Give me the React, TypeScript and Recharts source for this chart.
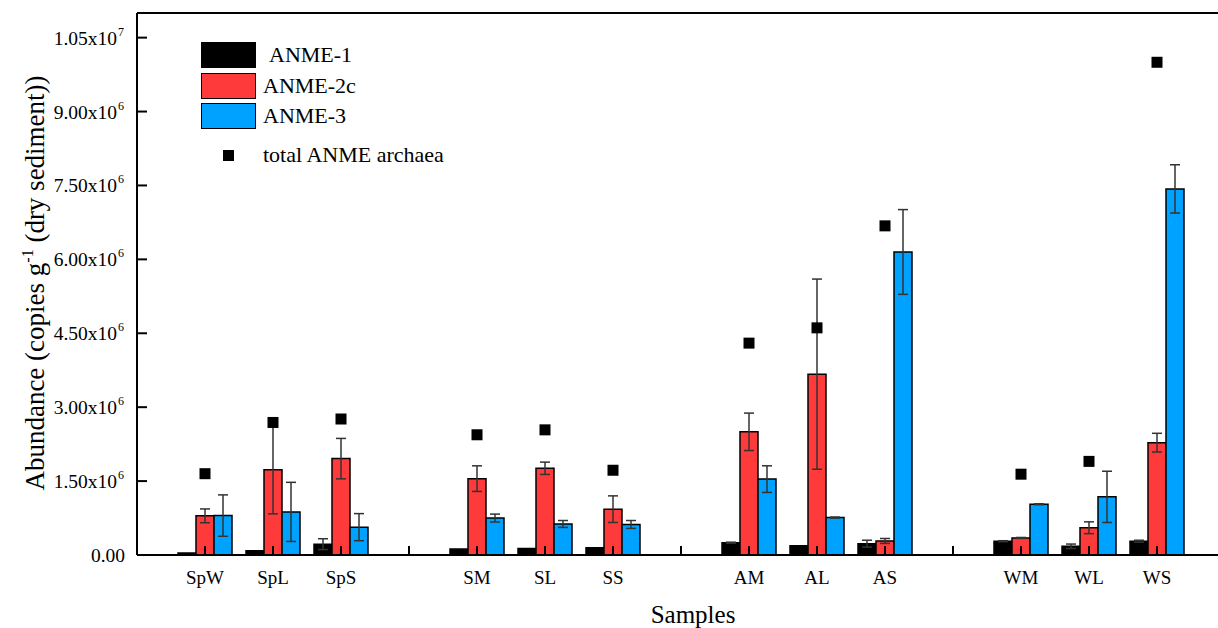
import React from 'react';
import {
  ComposedChart,
  Bar,
  Scatter,
  XAxis,
  YAxis,
  ErrorBar,
  ReferenceLine,
} from 'recharts';

// ---- data (copies per g dry sediment) ----
const categoryKeys = ['SpW', 'SpL', 'SpS', 'gap1', 'SM', 'SL', 'SS', 'gap2', 'AM', 'AL', 'AS', 'gap3', 'WM', 'WL', 'WS'];
const categoryLabels = ['SpW', 'SpL', 'SpS', '', 'SM', 'SL', 'SS', '', 'AM', 'AL', 'AS', '', 'WM', 'WL', 'WS'];

const anme1 = [0.04e6, 0.085e6, 0.22e6, null, 0.12e6, 0.13e6, 0.145e6, null, 0.25e6, 0.19e6, 0.23e6, null, 0.28e6, 0.177e6, 0.28e6];
const anme1Err = [0, 0, 0.11e6, null, 0, 0, 0, null, 0.01e6, 0, 0.07e6, null, 0.01e6, 0.045e6, 0.02e6];

const anme2c = [0.795e6, 1.73e6, 1.956e6, null, 1.55e6, 1.76e6, 0.93e6, null, 2.5e6, 3.67e6, 0.285e6, null, 0.346e6, 0.553e6, 2.28e6];
const anme2cErr = [0.14e6, 0.895e6, 0.41e6, null, 0.26e6, 0.125e6, 0.27e6, null, 0.38e6, 1.93e6, 0.05e6, null, 0.01e6, 0.12e6, 0.19e6];

const anme3 = [0.8e6, 0.875e6, 0.565e6, null, 0.75e6, 0.63e6, 0.62e6, null, 1.54e6, 0.76e6, 6.15e6, null, 1.03e6, 1.18e6, 7.43e6];
const anme3Err = [0.42e6, 0.6e6, 0.275e6, null, 0.08e6, 0.07e6, 0.08e6, null, 0.27e6, 0.01e6, 0.86e6, null, 0.01e6, 0.52e6, 0.49e6];

const totalAnme = [1.65e6, 2.69e6, 2.76e6, null, 2.44e6, 2.54e6, 1.72e6, null, 4.3e6, 4.61e6, 6.68e6, null, 1.64e6, 1.9e6, 10.0e6];

const yTickValues = [0, 1.5e6, 3.0e6, 4.5e6, 6.0e6, 7.5e6, 9.0e6, 1.05e7];
const yTickMain = ['0.00', '1.50x10', '3.00x10', '4.50x10', '6.00x10', '7.50x10', '9.00x10', '1.05x10'];
const yTickSup = ['', '6', '6', '6', '6', '6', '6', '7'];
const yDomainMax = 1.1e7;

const seriesNames = ['ANME-1', 'ANME-2c', 'ANME-3'];
const seriesColors = ['#000000', '#FF3A3A', '#00A2FF'];
const totalName = 'total ANME archaea';

const data = categoryKeys.map((k, i) => ({
  key: k,
  label: categoryLabels[i],
  a1: anme1[i],
  a1e: anme1Err[i],
  a2: anme2c[i],
  a2e: anme2cErr[i],
  a3: anme3[i],
  a3e: anme3Err[i],
  total: totalAnme[i],
  base: 0,
}));

const FONT = '"Liberation Serif", "Times New Roman", serif';

const YTick = (props: any) => {
  const { x, y, payload } = props;
  const idx = yTickValues.indexOf(payload.value);
  const main = idx >= 0 ? yTickMain[idx] : '';
  const sup = idx >= 0 ? yTickSup[idx] : '';
  return (
    <g>
      <line x1={x} y1={y} x2={x + 10} y2={y} stroke="#000" strokeWidth={2} />
      <text x={sup ? x - 20 : x - 12} y={y + 7} textAnchor="end" fontFamily={FONT} fontSize={19.5} fill="#000">
        {main}
      </text>
      {sup ? (
        <text x={x - 19} y={y - 2} textAnchor="start" fontFamily={FONT} fontSize={12} fill="#000">
          {sup}
        </text>
      ) : null}
    </g>
  );
};

const XTick = (props: any) => {
  const { x, y, index } = props;
  const label = categoryLabels[index];
  return (
    <g>
      <line x1={x} y1={y} x2={x} y2={y - 9} stroke="#000" strokeWidth={2} />
      {label ? (
        <text x={x} y={y + 29} textAnchor="middle" fontFamily={FONT} fontSize={19} fill="#000">
          {label}
        </text>
      ) : null}
    </g>
  );
};

const SquareShape = (props: any) => {
  const { cx, cy, payload } = props;
  if (!payload || payload.total == null || !Number.isFinite(cx) || !Number.isFinite(cy)) return null;
  return <rect x={cx - 5.5} y={cy - 5.5} width={11} height={11} fill="#000" />;
};

// inward x-axis tick drawn above the bars
const InnerTickShape = (props: any) => {
  const { cx, cy } = props;
  if (!Number.isFinite(cx) || !Number.isFinite(cy)) return null;
  return <line x1={cx} y1={cy} x2={cx} y2={cy - 9} stroke="#000" strokeWidth={2} />;
};

const LegendOverlay = () => (
  <div style={{ position: 'absolute', left: 0, top: 0, width: 500, height: 180, fontFamily: FONT, fontSize: 22, color: '#000', pointerEvents: 'none' }}>
    {seriesNames.map((n, i) => (
      <React.Fragment key={n}>
        <div
          style={{
            position: 'absolute',
            left: 201,
            top: 42 + i * 30.5,
            width: 55,
            height: 26,
            boxSizing: 'border-box',
            background: seriesColors[i],
            border: '1.5px solid #000',
          }}
        />
        <div
          style={{
            position: 'absolute',
            left: i === 0 ? 269 : 263,
            top: 42 + i * 30.5 + 13 - 14,
            lineHeight: '28px',
            whiteSpace: 'nowrap',
          }}
        >
          {n}
        </div>
      </React.Fragment>
    ))}
    <div style={{ position: 'absolute', left: 222.5, top: 149.5, width: 11, height: 11, background: '#000' }} />
    <div style={{ position: 'absolute', left: 263, top: 141, lineHeight: '28px', whiteSpace: 'nowrap' }}>{totalName}</div>
  </div>
);

const YTitle = () => (
  <text
    transform="translate(44, 283) rotate(-90)"
    textAnchor="middle"
    fontFamily={FONT}
    fontSize={27}
    fill="#000"
  >
    <tspan>Abundance (copies g</tspan>
    <tspan dy={-11} fontSize={16}>-1</tspan>
    <tspan dy={11}> (dry sediment))</tspan>
  </text>
);

const XTitle = () => (
  <text x={693} y={623} textAnchor="middle" fontFamily={FONT} fontSize={25} fill="#000">
    Samples
  </text>
);

export default function App() {
  return (
    <div style={{ position: 'fixed', left: 0, top: 0, width: 1218, height: 628, overflow: 'hidden', background: '#fff' }}>
      <ComposedChart
        width={1240}
        height={628}
        data={data}
        margin={{ top: 13, right: 15, bottom: 0, left: 0 }}
        barGap={0}
        barSize={18}
      >
        <Bar dataKey="a1" name={seriesNames[0]} fill={seriesColors[0]} stroke="#000" strokeWidth={1.5} isAnimationActive={false}>
          <ErrorBar dataKey="a1e" width={5} stroke="#333" strokeWidth={1.5} direction="y" />
        </Bar>
        <Bar dataKey="a2" name={seriesNames[1]} fill={seriesColors[1]} stroke="#000" strokeWidth={1.5} isAnimationActive={false}>
          <ErrorBar dataKey="a2e" width={5} stroke="#333" strokeWidth={1.5} direction="y" />
        </Bar>
        <Bar dataKey="a3" name={seriesNames[2]} fill={seriesColors[2]} stroke="#000" strokeWidth={1.5} isAnimationActive={false}>
          <ErrorBar dataKey="a3e" width={5} stroke="#333" strokeWidth={1.5} direction="y" />
        </Bar>
        <Scatter dataKey="base" shape={InnerTickShape} isAnimationActive={false} legendType="none" />
        <Scatter dataKey="total" name={totalName} shape={SquareShape} isAnimationActive={false} />
        <ReferenceLine y={yDomainMax} stroke="#000" strokeWidth={2} />
        <XAxis
          dataKey="key"
          type="category"
          height={73}
          interval={0}
          padding={{ left: 34, right: 34 }}
          tickSize={0}
          tickMargin={0}
          tick={<XTick />}
          axisLine={{ stroke: '#000', strokeWidth: 2 }}
          tickLine={false}
          label={{ content: () => <XTitle /> }}
        />
        <YAxis
          type="number"
          width={137}
          domain={[0, yDomainMax]}
          ticks={yTickValues}
          interval={0}
          tickSize={0}
          tickMargin={0}
          tick={<YTick />}
          axisLine={{ stroke: '#000', strokeWidth: 2 }}
          tickLine={false}
          allowDataOverflow
          label={{ content: () => <YTitle /> }}
        />
      </ComposedChart>
      <LegendOverlay />
    </div>
  );
}
